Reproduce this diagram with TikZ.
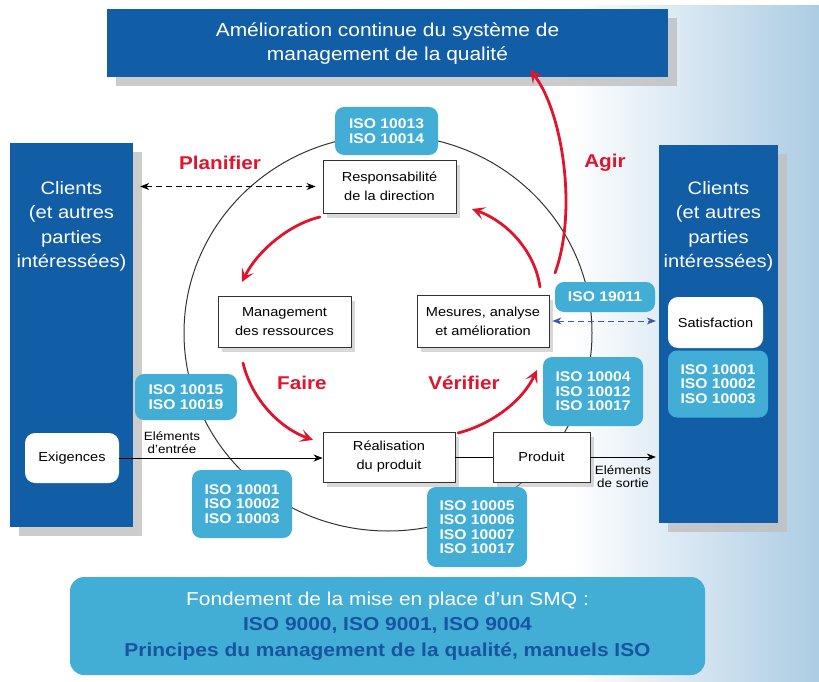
\documentclass[tikz,border=0pt]{standalone}
\usepackage{fontspec}
\setmainfont{Liberation Sans}[FakeStretch=1.12]
\usepackage{tikz}
\definecolor{bleufonce}{RGB}{18,94,166}
\definecolor{bleuclair}{RGB}{66,173,213}
\definecolor{texteiso}{RGB}{24,84,160}
\definecolor{rouge}{RGB}{224,20,45}
\definecolor{fond}{RGB}{172,204,227}
\definecolor{tiretbleu}{RGB}{60,90,170}
\usetikzlibrary{arrows.meta,shadows}

\begin{document}
\begin{tikzpicture}[x=1pt,y=-1pt,
    colonne/.style={fill=bleufonce, text=white, align=center,
        drop shadow={shadow xshift=9pt, shadow yshift=-9pt, fill=black!25, opacity=.8}},
    boite/.style={draw=black!80, line width=0.9pt, fill=white, align=center,
        font=\fontsize{13}{19}\selectfont,
        drop shadow={shadow xshift=4pt, shadow yshift=-5pt, fill=black!30, opacity=.5}},
    cartouche/.style={fill=white, rounded corners=10pt, align=center,
        font=\fontsize{13}{16}\selectfont},
    iso/.style={fill=bleuclair, rounded corners=9pt, text=white, align=center,
        font=\fontsize{14}{14.5}\selectfont\bfseries},
    petit/.style={align=center, inner sep=0pt, font=\fontsize{12}{13}\selectfont},
    etape/.style={text=rouge, font=\fontsize{18.5}{20}\selectfont\bfseries},
    fleche/.style={line width=0.8pt, -{Stealth[length=9pt,width=7pt]}},
    tirets/.style={line width=0.8pt, dash pattern=on 6pt off 4pt},
    cycle/.style={rouge, line width=2.8pt, line cap=round,
        -{Stealth[length=13pt,width=13pt,inset=6pt]}}]

    \useasboundingbox (0,0) rectangle (819,682);
    \shade[left color=white, right color=fond] (570,6) rectangle (819,682);

    % cadre du haut et clients
    \node[colonne, minimum width=561, minimum height=68,
        font=\fontsize{18.7}{24}\selectfont] (titre) at (387.5,43.5)
        {Amélioration continue du système de\\management de la qualité};
    \node[colonne, minimum width=123, minimum height=384] (gauche) at (71.5,335) {};
    \node[colonne, minimum width=119, minimum height=378] (droite) at (718.5,334) {};
    \node[text=white, align=center, inner sep=0pt, anchor=north,
        font=\fontsize{18}{24.5}\selectfont] (cligauche) at (71.5,181)
        {Clients\\(et autres\\parties\\intéressées)};
    \node[text=white, align=center, inner sep=0pt, anchor=north,
        font=\fontsize{18}{24.5}\selectfont] (clidroite) at (718.5,181)
        {Clients\\(et autres\\parties\\intéressées)};
    \node[cartouche, minimum width=94, minimum height=50] (exig) at (72,458) {Exigences};
    \node[cartouche, minimum width=95, minimum height=51] (satis) at (715.5,322.5) {Satisfaction};

    % le cercle
    \draw[line width=1pt, black!80] (388,333) ellipse [x radius=204, y radius=198];

    \node[boite, minimum width=133, minimum height=53] (resp) at (389.5,186.5) {Responsabilité\\de la direction};
    \node[boite, minimum width=133, minimum height=51] (ress) at (284.5,321.5) {Management\\des ressources};
    \node[boite, minimum width=132, minimum height=52] (mes) at (483,321) {Mesures, analyse\\et amélioration};
    \node[boite, minimum width=132, minimum height=50] (real) at (389,457) {Réalisation\\du produit};
    \node[boite, minimum width=97, minimum height=50] (prod) at (541.5,457) {Produit};

    \node[iso, minimum width=103, minimum height=48] (iso1) at (386.5,131) {ISO 10013\\ISO 10014};
    \node[iso, minimum width=102, minimum height=46] (iso2) at (186,397) {ISO 10015\\ISO 10019};
    \node[iso, minimum width=100, minimum height=68] (iso3) at (242,504) {ISO 10001\\ISO 10002\\ISO 10003};
    \node[iso, minimum width=100, minimum height=30] (iso4) at (605,297) {ISO 19011};
    \node[iso, minimum width=100, minimum height=69] (iso5) at (593,391.5) {ISO 10004\\ISO 10012\\ISO 10017};
    \node[iso, minimum width=100, minimum height=80] (iso6) at (477,527) {ISO 10005\\ISO 10006\\ISO 10007\\ISO 10017};
    \node[iso, minimum width=100, minimum height=67] (iso7) at (718,384) {ISO 10001\\ISO 10002\\ISO 10003};

    \node[iso, rounded corners=14pt, minimum width=635, minimum height=98,
        font=\fontsize{18.7}{25.5}\selectfont] (base) at (387.5,626)
        {Fondement de la mise en place d’un SMQ :\\
        \textcolor{texteiso}{\bfseries ISO 9000, ISO 9001, ISO 9004}\\
        \textcolor{texteiso}{\bfseries Principes du management de la qualité, manuels ISO}};

    % flux entrée / sortie
    \draw[fleche] (exig.east) -- (exig.east -| real.west);
    \node[petit] (entree) at (172,443) {Eléments\\d’entrée};
    \draw[line width=0.8pt] (real) -- (prod);
    \draw[fleche, shorten >=3pt] (prod.east) -- (prod.east -| droite.west);
    \node[petit] (sortie) at (623,477) {Eléments\\de sortie};

    \draw[tirets, {Stealth[length=9pt,width=7pt]}-{Stealth[length=9pt,width=7pt]},
        shorten <=7pt, shorten >=7pt] (gauche.east |- resp.west) -- (resp.west);
    \draw[tirets, tiretbleu, {Stealth[length=9pt,width=7pt]}-{Stealth[length=9pt,width=7pt]},
        shorten <=3pt, shorten >=3pt] (mes.east) -- (mes.east -| droite.west);

    % roue PDCA
    \coordinate (p1) at (320,217);  \coordinate (p2) at (242,282);
    \coordinate (f1) at (243,363);  \coordinate (f2) at (313,440);
    \coordinate (v1) at (458,433);  \coordinate (v2) at (537,370);
    \coordinate (a1) at (540,287);  \coordinate (a2) at (472,209);
    \coordinate (g1) at (555,273);  \coordinate (g2) at (530,70);

    \draw[cycle] (p1) .. controls (290,224) and (258,250) .. (p2);
    \draw[cycle] (f1) .. controls (252,400) and (280,428) .. (f2);
    \draw[cycle] (v1) .. controls (490,425) and (522,402) .. (v2);
    \draw[cycle] (a1) .. controls (535,252) and (508,222) .. (a2);
    \draw[cycle] (g1) .. controls (578,210) and (562,110) .. (g2);

    \node[etape] (planif) at (220,163) {Planifier};
    \node[etape] (faire) at (302,383) {Faire};
    \node[etape] (verif) at (464,383) {Vérifier};
    \node[etape] (agir) at (605,163) {Agir};
\end{tikzpicture}
\end{document}
